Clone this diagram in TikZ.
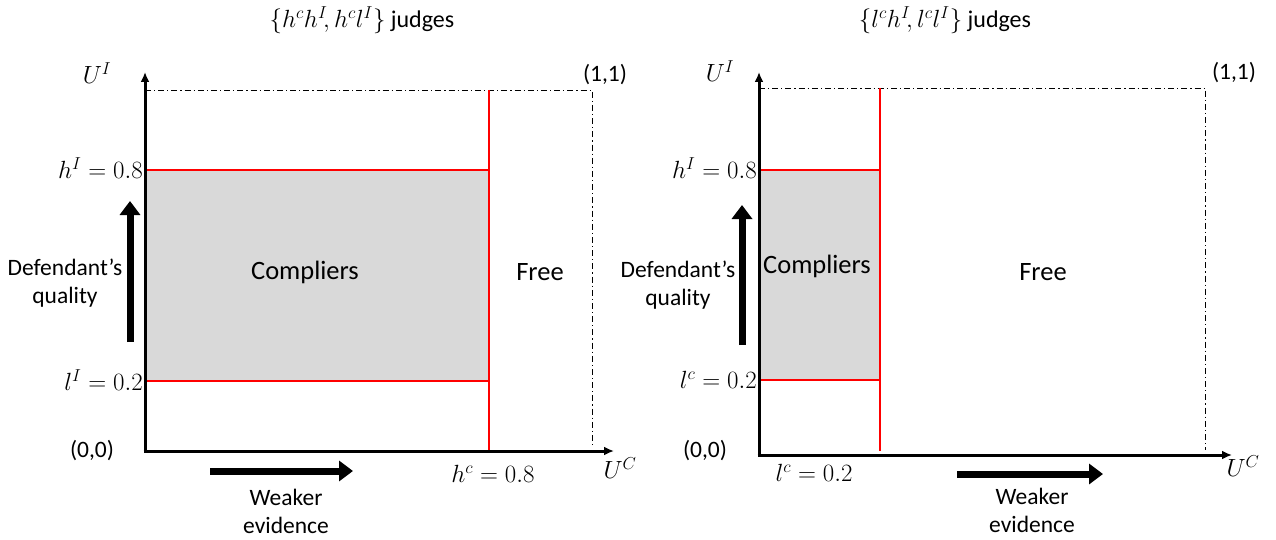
\documentclass[tikz,border=0pt]{standalone}
\usepackage{fontspec}
\setmainfont{Carlito}
\usetikzlibrary{arrows.meta}
\begin{document}
\begin{tikzpicture}[x=1pt,y=-1pt,
  txt/.style={inner sep=0pt, font=\fontsize{23.5}{28}\selectfont, align=center},
  ttl/.style={inner sep=0pt, font=\fontsize{24}{28}\selectfont, align=center},
  big/.style={inner sep=0pt, font=\fontsize{26.5}{30}\selectfont, align=center},
  mth/.style={inner sep=0pt, font=\fontsize{24}{28}\selectfont},
  axis/.style={line width=3pt, -{Latex[length=10pt,width=9pt]}},
  redl/.style={draw=red, line width=1.3pt},
  frame/.style={line width=0.9pt, dash pattern=on 6pt off 3pt on 1.2pt off 3pt},
  fat/.style={line width=7pt, -{Triangle[length=14pt,width=20pt]}},
  comp/.style={fill=gray!30}]
\useasboundingbox (0,0) rectangle (1276,540);
% ---------- left panel ----------
\coordinate (LO) at (145,451);
\coordinate (LY) at (145,72);
\coordinate (LX) at (614,451);
\coordinate (LTL) at (145,90);
\coordinate (LTR) at (592,90);
\coordinate (LBR) at (592,445);
\fill[comp] (145,170) rectangle (489,381);
\draw[frame] (LTL) -- (LTR) -- (LBR);
\draw[redl] (489,90) -- (489,451);
\draw[redl] (145,170) -- (489,170);
\draw[redl] (145,381) -- (489,381);
\draw[axis] (LO) -- (LY);
\draw[axis] ([xshift=-1.5pt]LO) -- (LX);
\node[ttl] (lt) at (362,20) {$\{h^ch^I\!,h^cl^I\}$ judges};
\node[mth] (lui) at (97,73) {$U^I$};
\node[txt] (l11) at (605,75) {(1,1)};
\node[txt] (l00) at (92,451) {(0,0)};
\node[mth] (luc) at (620,468) {$U^C$};
\node[mth, anchor=east] (lhi) at (143,168) {$h^I=0.8$};
\node[mth, anchor=east] (lli) at (143,380) {$l^I=0.2$};
\node[mth] (lhc) at (493,474) {$h^c=0.8$};
\node[big] (lcomp) at (305,272) {Compliers};
\node[big] (lfree) at (540,272) {Free};
\node[txt] (ldq) at (65,283) {Defendant’s\\quality};
\coordinate (lqa) at (130,342);
\coordinate (lqb) at (130,201);
\draw[fat] (lqa) -- (lqb);
\coordinate (lwa) at (210,471);
\coordinate (lwb) at (353,471);
\draw[fat] (lwa) -- (lwb);
\node[txt] (lwe) at (286,511) {Weaker\\evidence};
% ---------- right panel ----------
\coordinate (RO) at (759,455);
\coordinate (RY) at (759,72);
\coordinate (RX) at (1232,455);
\coordinate (RTL) at (759,88);
\coordinate (RTR) at (1205,88);
\coordinate (RBR) at (1205,450);
\fill[comp] (759,170) rectangle (880,380);
\draw[frame] (RTL) -- (RTR) -- (RBR);
\draw[redl] (880,88) -- (880,451);
\draw[redl] (759,170) -- (880,170);
\draw[redl] (759,380) -- (880,380);
\draw[axis] (RO) -- (RY);
\draw[axis] ([xshift=-1.5pt]RO) -- (RX);
\node[ttl] (rt) at (945,20) {$\{l^ch^I\!,l^cl^I\}$ judges};
\node[mth] (rui) at (720,71) {$U^I$};
\node[txt] (r11) at (1234,73) {(1,1)};
\node[txt] (r00) at (705,451) {(0,0)};
\node[mth] (ruc) at (1243,466) {$U^C$};
\node[mth, anchor=east] (rhi) at (757,168) {$h^I=0.8$};
\node[mth, anchor=east] (rli) at (757,380) {$l^c=0.2$};
\node[mth] (rlc) at (814,473) {$l^c=0.2$};
\node[big] (rcomp) at (817,266) {Compliers};
\node[big] (rfree) at (1043,272) {Free};
\node[txt] (rdq) at (678,285) {Defendant’s\\quality};
\coordinate (rqa) at (742,345);
\coordinate (rqb) at (742,205);
\draw[fat] (rqa) -- (rqb);
\coordinate (rwa) at (957,474);
\coordinate (rwb) at (1103,474);
\draw[fat] (rwa) -- (rwb);
\node[txt] (rwe) at (1032,510) {Weaker\\evidence};
\end{tikzpicture}
\end{document}
